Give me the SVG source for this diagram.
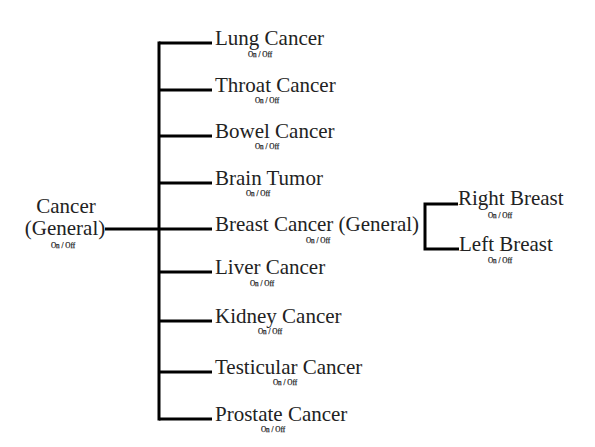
<svg xmlns="http://www.w3.org/2000/svg" width="595" height="447" viewBox="0 0 595 447">
<style>
.lbl{font-family:"Liberation Serif","Times New Roman",serif;font-size:21px;fill:#222}
.sw{font-family:"Liberation Serif","Times New Roman",serif;font-size:7.2px;fill:#222;stroke:#222;stroke-width:0.25;text-anchor:middle}
.ln{stroke:#000;stroke-width:3;fill:none}
</style>
<rect width="595" height="447" fill="#fff"/>
<g id="connectors">
<path class="ln" d="M105 229H159M159 41.5V420.5"/>
<path class="ln" d="M159 43H212M159 90H212M159 136H212M159 183H212M159 229H212M159 272H212M159 321H212M159 372H212M159 419H212"/>
<path class="ln" d="M458 204H425V249H459"/>
</g>
<g id="root">
<text class="lbl" x="66" y="213" text-anchor="middle">Cancer</text>
<text class="lbl" x="65" y="235" text-anchor="middle">(General)</text>
<text class="sw" x="63" y="248">On / Off</text>
</g>
<g id="lung"><text class="lbl" x="215" y="45">Lung Cancer</text><text class="sw" x="260" y="57">On / Off</text></g>
<g id="throat"><text class="lbl" x="215" y="92">Throat Cancer</text><text class="sw" x="267" y="103">On / Off</text></g>
<g id="bowel"><text class="lbl" x="215" y="138">Bowel Cancer</text><text class="sw" x="267" y="149">On / Off</text></g>
<g id="brain"><text class="lbl" x="215" y="185">Brain Tumor</text><text class="sw" x="258" y="196">On / Off</text></g>
<g id="breast"><text class="lbl" x="215" y="231">Breast Cancer (General)</text><text class="sw" x="318" y="243">On / Off</text></g>
<g id="liver"><text class="lbl" x="215" y="274">Liver Cancer</text><text class="sw" x="262" y="286">On / Off</text></g>
<g id="kidney"><text class="lbl" x="215" y="323">Kidney Cancer</text><text class="sw" x="270" y="334">On / Off</text></g>
<g id="testicular"><text class="lbl" x="215" y="374">Testicular Cancer</text><text class="sw" x="285" y="385">On / Off</text></g>
<g id="prostate"><text class="lbl" x="215" y="421">Prostate Cancer</text><text class="sw" x="273" y="432">On / Off</text></g>
<g id="right-breast"><text class="lbl" x="458" y="205">Right Breast</text><text class="sw" x="500" y="218">On / Off</text></g>
<g id="left-breast"><text class="lbl" x="459" y="251">Left Breast</text><text class="sw" x="500" y="263">On / Off</text></g>
</svg>
